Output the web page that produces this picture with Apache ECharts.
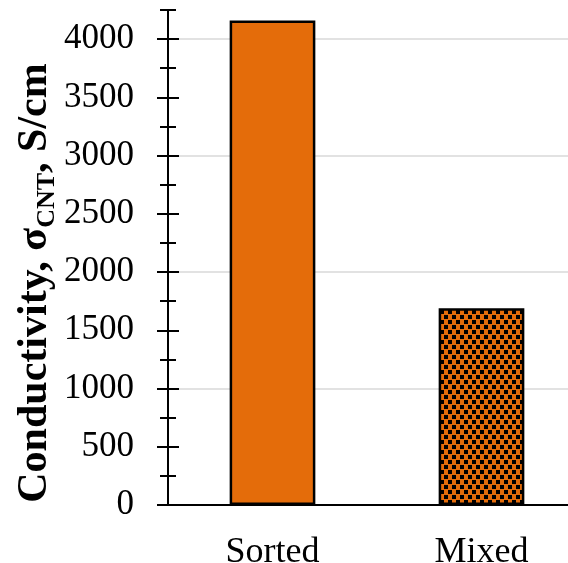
<!DOCTYPE html>
<html><head><meta charset="utf-8">
<script src="https://cdn.jsdelivr.net/npm/echarts@6/dist/echarts.min.js"></script>
<style>html,body{margin:0;padding:0;background:#fff}#c{width:568px;height:563px}</style>
</head><body><div id="c"></div>
<script>
const categories = ['Sorted', 'Mixed'];
const conductivity = [4160, 1690];
const majorTicks = [0, 500, 1000, 1500, 2000, 2500, 3000, 3500, 4000];
const minorTicks = [250, 750, 1250, 1750, 2250, 2750, 3250, 3750, 4250];

const ORANGE = '#E46C0A';
const tile = document.createElement('canvas');
tile.width = 8; tile.height = 10;
const g = tile.getContext('2d');
g.fillStyle = ORANGE; g.fillRect(0, 0, 8, 10);
g.fillStyle = '#000';
g.fillRect(0, 0, 4, 4);
g.fillRect(4, 5, 4, 4);

const font = '"Liberation Serif", "Times New Roman", serif';
const chart = echarts.init(document.getElementById('c'));
function yax(tickVals, inside, len, main) {
  return {
    type: 'value', min: 0, max: 4250, interval: 250, position: 'left',
    axisLine: { show: !!main, lineStyle: { color: '#000', width: 2 } },
    axisTick: { show: true, inside: inside, length: len, customValues: tickVals, lineStyle: { color: '#000', width: 2 } },
    axisLabel: main ? { show: true, customValues: majorTicks, margin: 34, fontFamily: font, fontSize: 35, color: '#000', formatter: v => String(v) } : { show: false },
    splitLine: main ? { show: true, lineStyle: { color: ['#d9d9d9', 'rgba(0,0,0,0)'], width: 1.5 } } : { show: false }
  };
}
chart.setOption({
  animation: false,
  grid: { left: 168, top: 10, height: 495, width: 418, outerBoundsMode: 'none', containLabel: false },
  xAxis: {
    type: 'category', data: categories,
    axisLine: { lineStyle: { color: '#000', width: 2 } },
    axisTick: { show: false },
    axisLabel: { fontFamily: font, fontSize: 36, color: '#000', margin: 30 }
  },
  yAxis: [
    yax(majorTicks, false, 11, true),
    yax(majorTicks, true, 11, false),
    yax(minorTicks, false, 8, false),
    yax(minorTicks, true, 8, false)
  ],
  graphic: [{
    type: 'text', x: 35, y: 283, rotation: Math.PI / 2,
    style: {
      text: '{a|Conductivity, σ}{s|CNT}{a|, S/cm}',
      align: 'center', verticalAlign: 'middle',
      rich: {
        a: { fontFamily: 'Liberation Serif', fontWeight: 'bold', fontSize: 42, fill: '#000' },
        s: { fontFamily: 'Liberation Serif', fontWeight: 'bold', fontSize: 26, fill: '#000', verticalAlign: 'bottom', padding: [0, 0, -4, 0] }
      }
    }
  }],
  series: [{
    type: 'bar', barWidth: '41%',
    itemStyle: { borderColor: '#000', borderWidth: 2.5 },
    data: [
      { value: conductivity[0], itemStyle: { color: ORANGE } },
      { value: conductivity[1], itemStyle: { color: { image: tile, repeat: 'repeat' } } }
    ]
  }]
});
</script></body></html>
